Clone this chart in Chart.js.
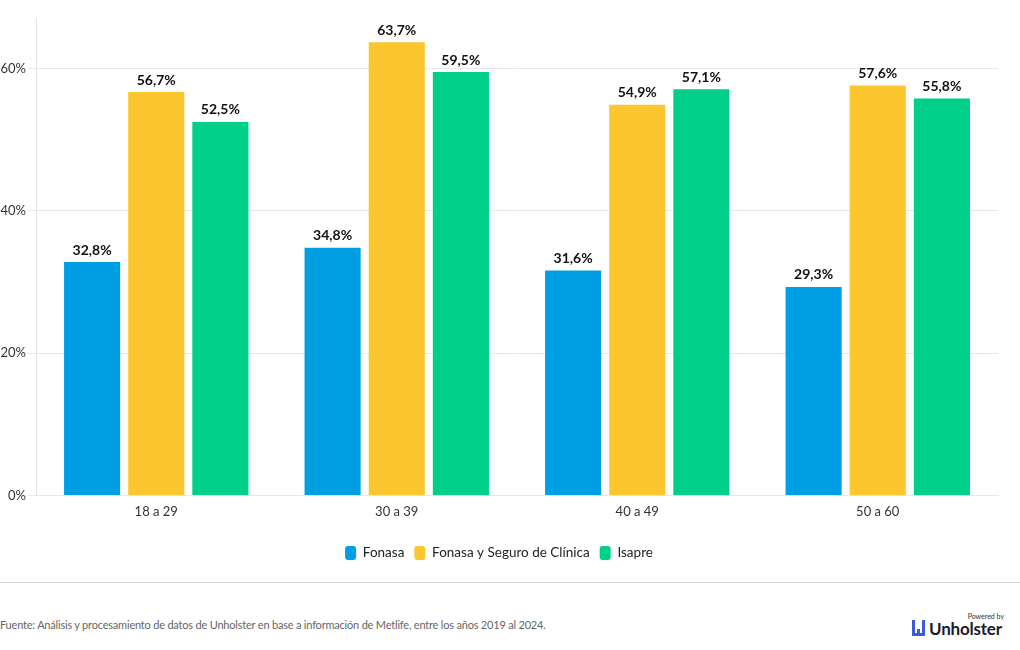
<!DOCTYPE html>
<html>
<head>
<meta charset="utf-8">
<script src="https://cdn.jsdelivr.net/npm/chart.js@4.4.1/dist/chart.umd.min.js"></script>
<style>
  body { margin: 0; background: #fff; font-family: Lato, sans-serif; }
  #wrap { position: relative; width: 1020px; height: 574px; }
  #sep { position: absolute; left: 0; top: 582px; width: 1020px; height: 1px; background: #d6d6d6; }
  #fuente { position: absolute; left: 0; top: 618px; font-size: 11px; letter-spacing: -0.2px; color: #666; }
  #logo { position: absolute; left: 912px; top: 612px; width: 96px; height: 26px; }
  #logo .pw { position: absolute; right: 4px; top: 0; font-size: 7px; color: #333; }
  #logo .nm { position: absolute; left: 17px; top: 6px; font-size: 17px; font-weight: 700; color: #1b1d2a; letter-spacing: -0.2px; }
</style>
</head>
<body>
<div id="wrap"><canvas id="chart"></canvas></div>
<div id="sep"></div>
<div id="fuente">Fuente: Análisis y procesamiento de datos de Unholster en base a información de Metlife, entre los años 2019 al 2024.</div>
<div id="logo">
  <svg width="16" height="18" viewBox="0 0 16 18" style="position:absolute;left:0;top:7px">
    <rect x="0" y="1" width="3" height="16" fill="#3b5bdb"/>
    <rect x="5" y="10" width="3" height="7" fill="#3b5bdb"/>
    <rect x="10" y="1" width="3" height="16" fill="#3b5bdb"/>
    <rect x="0" y="14" width="13" height="3" fill="#3b5bdb"/>
  </svg>
  <span class="pw">Powered by</span>
  <span class="nm">Unholster</span>
</div>
<script>
// Datos del gráfico
const categorias = ["18 a 29", "30 a 39", "40 a 49", "50 a 60"];
const fonasa = [32.8, 34.8, 31.6, 29.3];
const fonasaSeguro = [56.7, 63.7, 54.9, 57.6];
const isapre = [52.5, 59.5, 57.1, 55.8];
const yTicks = [0, 20, 40, 60];

const colores = {
  fonasa: "#009fe3",
  seguro: "#fbc62e",
  isapre: "#00cf89",
};

// Etiquetas de valor sobre cada barra
const etiquetasPlugin = {
  id: "etiquetas",
  afterDatasetsDraw(chart) {
    const ctx = chart.ctx;
    ctx.save();
    ctx.font = "bold 14px Lato, sans-serif";
    ctx.fillStyle = "#111";
    ctx.textAlign = "center";
    ctx.textBaseline = "bottom";
    chart.data.datasets.forEach((ds, i) => {
      chart.getDatasetMeta(i).data.forEach((bar, j) => {
        const txt = ds.data[j].toFixed(1).replace(".", ",") + "%";
        ctx.fillText(txt, bar.x, bar.y - 5);
      });
    });
    ctx.restore();
  },
};

new Chart(document.getElementById("chart"), {
  type: "bar",
  data: {
    labels: categorias,
    datasets: [
      { label: "Fonasa", data: fonasa, backgroundColor: colores.fonasa },
      { label: "Fonasa y Seguro de Clínica", data: fonasaSeguro, backgroundColor: colores.seguro },
      { label: "Isapre", data: isapre, backgroundColor: colores.isapre },
    ],
  },
  options: {
    responsive: true,
    maintainAspectRatio: false,
    animation: false,
    datasets: { bar: { categoryPercentage: 0.8, barPercentage: 0.875 } },
    layout: { padding: { top: 18, right: 22, left: 0, bottom: 4 } },
    plugins: {
      tooltip: { enabled: false },
      legend: {
        position: "bottom",
        labels: {
          color: "#222",
          font: { family: "Lato, sans-serif", size: 13.5 },
          boxWidth: 11,
          boxHeight: 14,
          useBorderRadius: true,
          borderRadius: 3,
          padding: 10,
        },
      },
    },
    scales: {
      x: {
        // espacio extra entre etiquetas del eje y la leyenda
        afterFit(scale) { scale.height += 15; },
        grid: { display: false },
        border: { color: "#e6e6e6" },
        ticks: { color: "#333", font: { family: "Lato, sans-serif", size: 13 }, padding: 1 },
      },
      y: {
        min: 0,
        max: 67.1,
        afterFit(scale) { scale.width = 36; },
        afterBuildTicks(scale) { scale.ticks = yTicks.map((v) => ({ value: v })); },
        grid: { color: "#e8e8e8", tickLength: 8 },
        border: { color: "#e6e6e6" },
        ticks: {
          color: "#333",
          font: { family: "Lato, sans-serif", size: 13 },
          padding: 2,
          callback: (v) => v + "%",
        },
      },
    },
  },
  plugins: [etiquetasPlugin],
});
</script>
</body>
</html>
